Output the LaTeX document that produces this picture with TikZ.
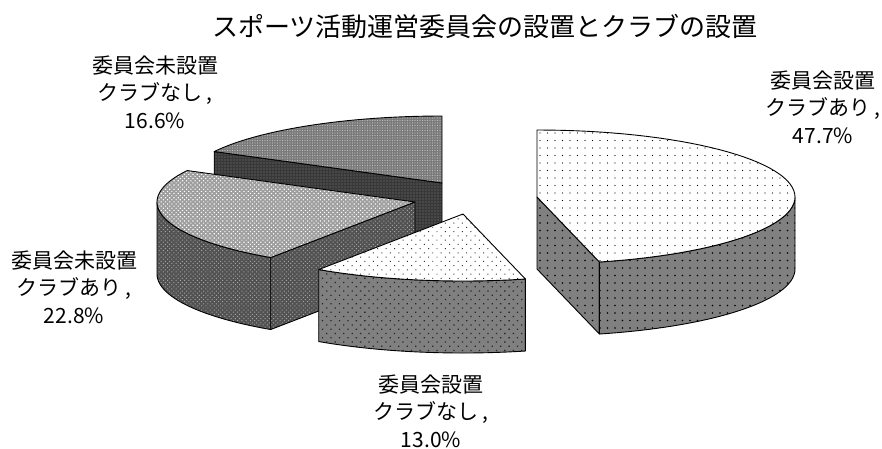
\documentclass[tikz,border=0pt]{standalone}
\usepackage{fontspec}
\setmainfont{Noto Sans CJK JP}
\usetikzlibrary{patterns.meta}
\tikzstyle{edge}=[draw=black,line width=0.9pt,line join=round]
\tikzstyle{topbig}=[edge,preaction={fill=white},
  pattern={Dots[distance=7.5pt,radius=0.7pt]},pattern color=black]
\tikzstyle{sidebig}=[edge,preaction={fill=black!50},
  pattern={Dots[distance=7.5pt,radius=0.9pt]},pattern color=black]
\tikzstyle{topsmall}=[edge,preaction={fill=white},
  pattern={Dots[distance=6pt,radius=0.7pt,angle=45]},pattern color=black!80]
\tikzstyle{sidesmall}=[edge,preaction={fill=black!50},
  pattern={Dots[distance=6pt,radius=0.9pt,angle=45]},pattern color=black!85]
\tikzstyle{topleft}=[edge,preaction={fill=black!38},
  pattern={Dots[distance=3pt,radius=0.8pt,angle=45]},pattern color=white]
\tikzstyle{sideleft}=[edge,preaction={fill=black!68},
  pattern={Dots[distance=3pt,radius=0.7pt,angle=45]},pattern color=black!35]
\tikzstyle{topback}=[edge,preaction={fill=black!52},
  pattern={Dots[distance=2.5pt,radius=0.6pt]},pattern color=black!25]
\tikzstyle{sideback}=[edge,preaction={fill=black!78},
  pattern={Dots[distance=3pt,radius=0.6pt]},pattern color=black!50]
\tikzstyle{lbl}=[align=center,inner sep=0pt,font=\fontsize{21}{27.5}\selectfont]

\begin{document}
\begin{tikzpicture}[x=1pt,y=-1pt]
    \useasboundingbox (0,0) rectangle (882,448);
    \coordinate (c1) at (537,197);
    \coordinate (c2) at (463,214);
    \coordinate (c3) at (415,202);
    \coordinate (c4) at (442,183);
    \draw[sideback] (c4) -- ++(-227.8,-31.5) -- ++(0,72) -- ++(227.8,31.5) -- cycle;
    \draw[topback] (c4) -- plot[domain=152:90,samples=30] ({442+258*cos(\x)},{183-67*sin(\x)}) -- cycle;
    \draw[sideleft] plot[domain=180:236,samples=30] ({415+258*cos(\x)},{202-67*sin(\x)})
        -- plot[domain=236:180,samples=30] ({415+258*cos(\x)},{274-67*sin(\x)}) -- cycle;
    \draw[sideleft] (c3) -- ++(-144.3,55.5) -- ++(0,72) -- ++(144.3,-55.5) -- cycle;
    \draw[topleft] (c3) -- plot[domain=152:236,samples=40] ({415+258*cos(\x)},{202-67*sin(\x)}) -- cycle;
    \draw[sidesmall] plot[domain=-124:-76,samples=30] ({463+258*cos(\x)},{214-67*sin(\x)})
        -- plot[domain=-76:-124,samples=30] ({463+258*cos(\x)},{286-67*sin(\x)}) -- cycle;
    \draw[topsmall] (c2) -- plot[domain=-124:-76,samples=30] ({463+258*cos(\x)},{214-67*sin(\x)}) -- cycle;
    \draw[sidebig] (c1) -- ++(62.4,65) -- ++(0,72) -- ++(-62.4,-65) -- cycle;
    \draw[sidebig] plot[domain=-76:0,samples=40] ({537+258*cos(\x)},{197-67*sin(\x)})
        -- plot[domain=0:-76,samples=40] ({537+258*cos(\x)},{269-67*sin(\x)}) -- cycle;
    \draw[topbig] (c1) -- plot[domain=-76:90,samples=60] ({537+258*cos(\x)},{197-67*sin(\x)}) -- cycle;
    \node[font=\fontsize{26}{30}\selectfont] (title) at (485,26) {スポーツ活動運営委員会の設置とクラブの設置};
    \node[lbl] (l1) at (823,107) {委員会設置\\クラブあり ,\\47.7\%};
    \node[lbl] (l2) at (431,411) {委員会設置\\クラブなし ,\\13.0\%};
    \node[lbl] (l3) at (74,287) {委員会未設置\\クラブあり ,\\22.8\%};
    \node[lbl] (l4) at (155,92) {委員会未設置\\クラブなし ,\\16.6\%};
\end{tikzpicture}
\end{document}
